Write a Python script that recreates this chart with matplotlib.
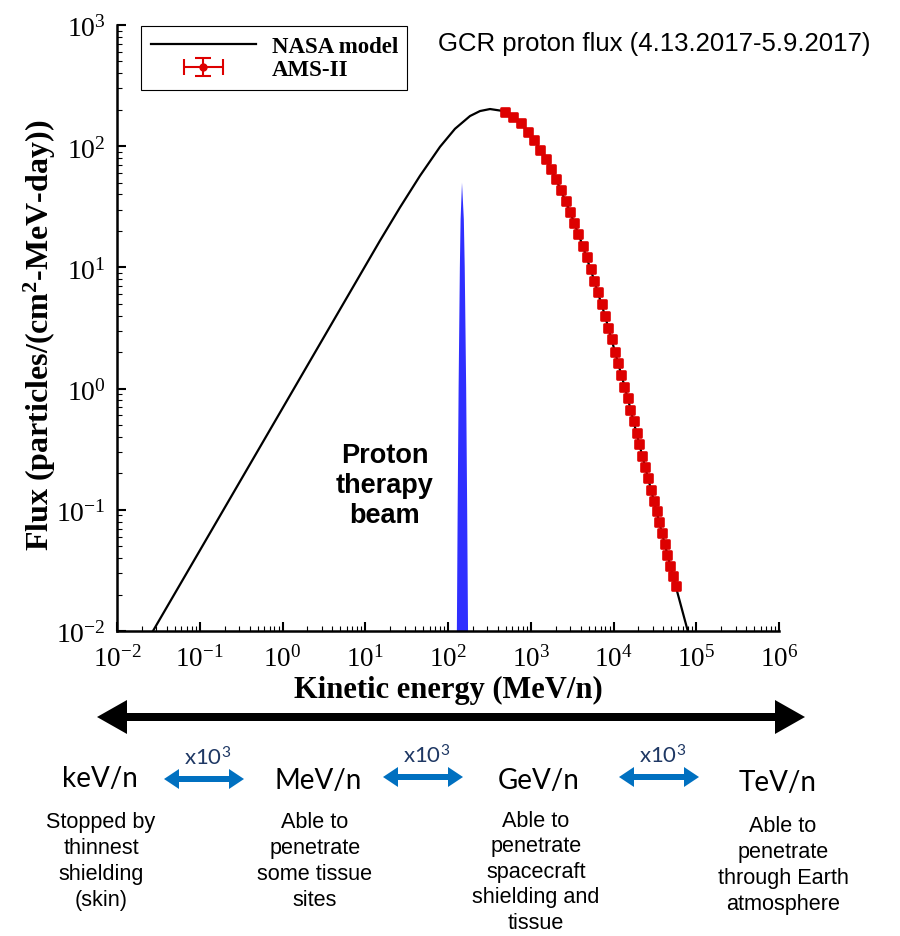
import numpy as np
import matplotlib
matplotlib.use('Agg')
import matplotlib.pyplot as plt
from matplotlib.ticker import LogLocator, FuncFormatter
from matplotlib.legend_handler import HandlerErrorbar
from matplotlib.markers import MarkerStyle

plt.rcParams['mathtext.fontset'] = 'custom'
plt.rcParams['mathtext.rm'] = 'Liberation Serif'
plt.rcParams['mathtext.it'] = 'Liberation Serif:italic'
plt.rcParams['mathtext.bf'] = 'Liberation Serif:bold'
plt.rcParams['mathtext.sf'] = 'Lato'

# NASA model curve (MeV/n, particles/(cm2 MeV day))
model_energy = [0.0272, 0.1007, 0.4048, 1.627, 6.543, 15.08, 26.30, 45.87, 80.08,
                121.5, 184.5, 243.6, 321.9, 425.0, 489, 760, 1100, 1516, 2018, 2981,
                4246, 5861, 7889, 10420, 14850, 20500, 28380, 38550, 48550, 56490, 79000]
model_flux = [0.01, 0.04642, 0.2378, 1.218, 6.244, 16.64, 31.26, 57.00, 98.86,
              139.2, 177.4, 195.0, 202.6, 196.9, 193, 154.5, 112.5, 78.4, 53.6, 28.8,
              15.1, 7.77, 3.99, 2.01, 0.836, 0.347, 0.147, 0.064, 0.0346, 0.0234, 0.01]

# AMS-II measurements
ams_energy = [489, 615, 762, 919, 1104, 1294, 1516, 1757, 2018, 2322, 2644, 2981,
              3333, 3758, 4246, 4745, 5297, 5861, 6501, 7194, 7889, 8650, 9590,
              10420, 11430, 12320, 13500, 14850, 15960, 17540, 19060, 20500, 22280,
              24220, 26340, 28380, 30850, 33260, 35730, 38550, 41590, 44670, 48550,
              52360, 56490]
ams_flux = [193, 173, 154.5, 131.7, 112.5, 93.6, 78.4, 64.8, 53.6, 43.8, 35.5, 28.8,
            23.2, 18.9, 15.1, 12.1, 9.70, 7.77, 6.23, 4.99, 3.99, 3.16, 2.57,
            2.01, 1.62, 1.29, 1.04, 0.836, 0.670, 0.541, 0.433, 0.347, 0.279,
            0.225, 0.182, 0.147, 0.119, 0.0972, 0.0789, 0.0640, 0.0522, 0.0424, 0.0346,
            0.0282, 0.0234]

# proton therapy beam spike
beam_energy = [128, 130.8, 134.3, 139.1, 142.0, 147.6, 155.3, 159.3, 165.8, 170.5, 174.6]
beam_flux = [0.01, 0.1, 1, 10, 25, 50, 25, 10, 1, 0.1, 0.01]

bands = ['keV/n', 'MeV/n', 'GeV/n', 'TeV/n']
band_notes = ['Stopped by\nthinnest\nshielding\n(skin)',
              'Able to\npenetrate\nsome tissue\nsites',
              'Able to\npenetrate\nspacecraft\nshielding and\ntissue',
              'Able to\npenetrate\nthrough Earth\natmosphere']
step_label = r'x10$^{\mathsf{3}}$'

W, H = 900, 937
fig = plt.figure(figsize=(W / 100, H / 100), dpi=100)
ax = fig.add_axes([117 / W, 1 - 632 / H, 662 / W, 606 / H])

model_line, = ax.plot(model_energy, model_flux, color='black', lw=1.6,
                      label='NASA model', zorder=2)
ax.plot(ams_energy, ams_flux, ls='none', marker=MarkerStyle('s', joinstyle='round'),
        ms=5.8, mew=1.9, color='#dd0000', mec='#dd0000', zorder=3)
ams_handle = ax.errorbar([np.nan], [np.nan], xerr=[1], yerr=[1], fmt='o', ms=5,
                         color='#dd0000', elinewidth=1.5, capsize=5.5, capthick=1.5,
                         label='AMS-II')
ax.fill(beam_energy, beam_flux, color='#2f2fff', lw=0, zorder=1)

ax.set_xscale('log')
ax.set_yscale('log')
ax.set_xlim(1e-2, 1e6)
ax.set_ylim(1e-2, 1e3)
for axis in (ax.xaxis, ax.yaxis):
    axis.set_major_locator(LogLocator(base=10, numticks=20))
    axis.set_minor_locator(LogLocator(base=10, subs=np.arange(2, 10), numticks=20))
    axis.set_major_formatter(FuncFormatter(lambda v, p: r'$\mathrm{10^{%d}}$' % round(np.log10(v))))

ax.spines['top'].set_visible(False)
ax.spines['right'].set_visible(False)
ax.spines['left'].set_linewidth(1.8)
ax.spines['bottom'].set_linewidth(1.8)
ax.tick_params(which='major', direction='in', length=6.5, width=1.5)
ax.tick_params(which='minor', direction='in', length=3.6, width=0.8)
ax.tick_params(axis='x', which='major', pad=10, labelsize=19.5)
ax.tick_params(axis='y', which='major', pad=8, labelsize=20)

ax.set_xlabel('Kinetic energy (MeV/n)', family='Liberation Serif', weight='bold', fontsize=22)
ax.set_ylabel(r'Flux (particles/(cm$^{\mathbf{2}}$-MeV-day))', family='Liberation Serif',
              weight='bold', fontsize=23)
ax.xaxis.set_label_coords(0.5, (632 - 690) / 606)
ax.xaxis.label.set_va('center')
ax.yaxis.set_label_coords((40 - 117) / 662, (632 - 335) / 606)
ax.yaxis.label.set_va('center')

leg = ax.legend(handles=[model_line, ams_handle], loc='upper left',
                bbox_to_anchor=(24 / 662, 0, 266 / 662, 605 / 606), mode='expand',
                borderaxespad=0, fancybox=False, edgecolor='black', framealpha=1,
                handlelength=4.6, handletextpad=0.7, borderpad=0.42, labelspacing=0.1,
                prop={'family': 'Liberation Serif', 'weight': 'bold', 'size': 16.5},
                handler_map={type(ams_handle): HandlerErrorbar(xerr_size=0.85, yerr_size=0.4)})
leg.get_frame().set_linewidth(0.8)

ax.text(17.3, 0.16, 'Proton\ntherapy\nbeam', ha='center', va='center',
        family='Liberation Sans', weight='bold', fontsize=19.5, linespacing=1.22)

# overlay in pixel units for the annotations around the chart
ov = fig.add_axes([0, 0, 1, 1])
ov.set_xlim(0, W)
ov.set_ylim(H, 0)
ov.axis('off')
ov.patch.set_visible(False)

ov.text(438, 44, 'GCR proton flux (4.13.2017-5.9.2017)', ha='left', va='center',
        family='Liberation Sans', fontsize=18.5)

# big energy arrow
for dx in (-354, 354):
    ov.arrow(451, 718, dx, 0, width=8, head_width=34, head_length=30,
             length_includes_head=True, color='black', lw=0)

band_x = [100, 318, 539, 778]
band_y = [779, 781, 781, 783]
note_x = [101, 315, 536, 783]
note_y = [812, 812, 811, 816]
note_ls = [1.32, 1.32, 1.28, 1.32]
for name, bx, by, note, nx, ny, ls in zip(bands, band_x, band_y, band_notes,
                                          note_x, note_y, note_ls):
    ov.text(bx, by, name, ha='center', va='center', family='Lato', fontsize=20)
    ov.text(nx, ny, note, ha='center', va='top', family='Liberation Sans',
            fontsize=15.6, linespacing=ls)

step_x = [204, 423, 659]
step_y = [780, 778, 778]
for sx, sy in zip(step_x, step_y):
    for dx in (-40, 40):
        ov.arrow(sx, sy, dx, 0, width=6, head_width=20, head_length=15,
                 length_includes_head=True, color='#0070c0', lw=0)
    ov.text(sx + 4, sy - 23, step_label, ha='center', va='center', family='Lato',
            fontsize=16, color='#1f3864')

fig.savefig('out.png', dpi=100)
